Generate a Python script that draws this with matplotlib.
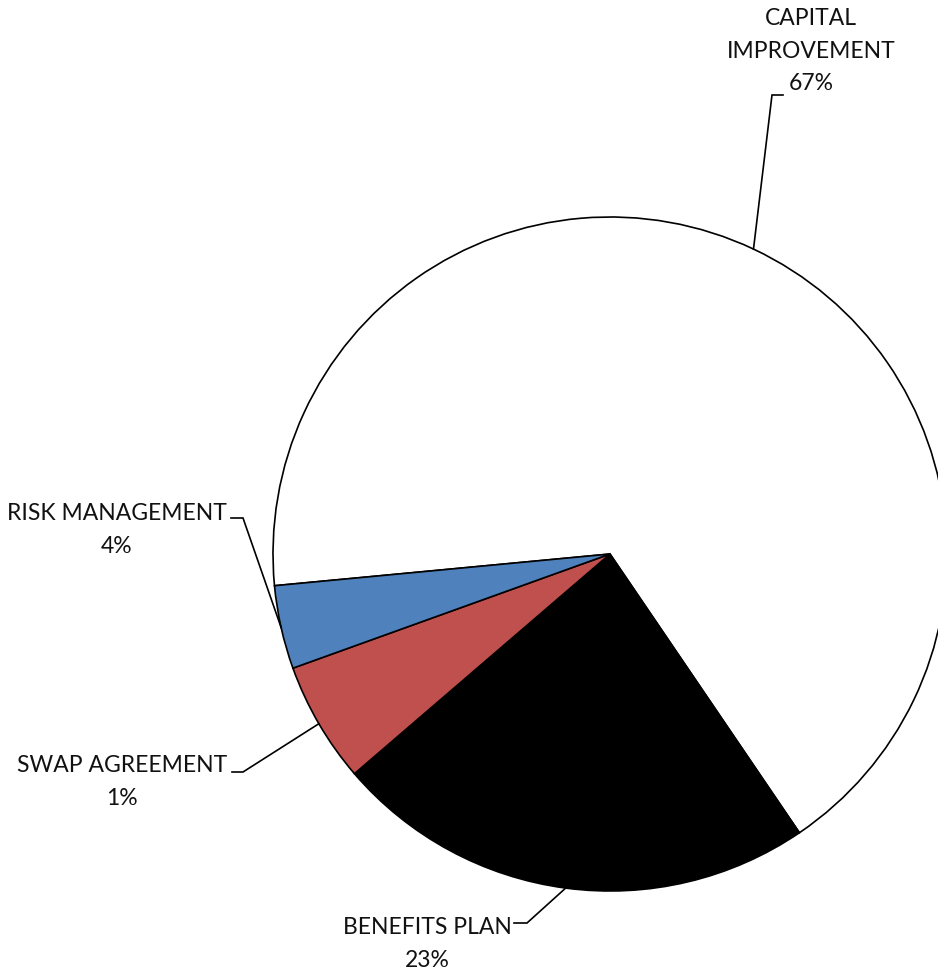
import numpy as np
import matplotlib
matplotlib.use("Agg")
from matplotlib import pyplot as plt

# slice sizes (percent of the circle)
categories = ["CAPITAL\nIMPROVEMENT", "BENEFITS PLAN", "SWAP AGREEMENT", "RISK MANAGEMENT"]
values = [67.0, 23.2, 5.8, 4.0]
pct_labels = ["67%", "23%", "1%", "4%"]
colors = ["#FFFFFF", "#000000", "#C0504D", "#4F81BD"]

W, H = 938, 973
CX, CY, R = 610, 554, 337   # pie centre / radius in pixels

fig = plt.figure(figsize=(W / 100, H / 100), dpi=100)
ax = fig.add_axes([(CX - R) / W, (H - CY - R) / H, 2 * R / W, 2 * R / H])

wedges, _ = ax.pie(values, colors=colors, startangle=185.4, counterclock=False,
                   radius=1, wedgeprops=dict(edgecolor="black", linewidth=1.2))
for w in wedges:
    w.set_clip_on(False)
ax.set_xlim(-1, 1)
ax.set_ylim(-1, 1)
ax.axis("off")

def px(x, y):
    # pixel position -> data coords of the pie axes
    return (x - CX) / R, (CY - y) / R

# label layout: text centre, elbow point, end of the short horizontal tick
label_pos = [(811, 51), (427, 944), (122, 782), (117, 530)]
elbows = [((772, 95), (783, 95)), ((527, 923), (514, 923)),
          ((243, 772), (232, 772)), ((243, 518), (231, 518))]

for w, name, pct, (tx, ty), (e1, e2) in zip(wedges, categories, pct_labels, label_pos, elbows):
    mid = np.deg2rad((w.theta1 + w.theta2) / 2)
    p0 = (np.cos(mid), np.sin(mid))
    p1 = px(*e1)
    p2 = px(*e2)
    ax.plot([p0[0], p1[0], p2[0]], [p0[1], p1[1], p2[1]], color="black",
            lw=1.2, clip_on=False, solid_joinstyle="miter")
    fig.text(tx / W, 1 - ty / H, name + "\n" + pct, ha="center", va="center",
             fontsize=16.5, family="Lato", linespacing=1.65, color="#111111")

fig.savefig("out.png", dpi=100, facecolor="white")
